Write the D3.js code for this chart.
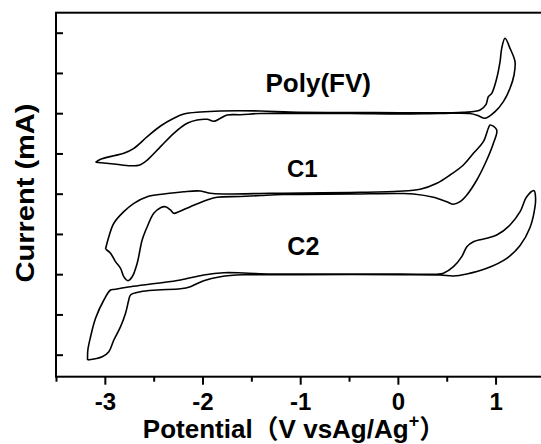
<!DOCTYPE html>
<html>
<head>
<meta charset="utf-8">
<script src="https://cdn.jsdelivr.net/npm/d3@7"></script>
<style>
  body { margin: 0; background: #fff; }
  svg { display: block; }
  text { font-family: "Liberation Sans", Arial, "Noto Sans CJK SC", sans-serif; font-weight: bold; fill: #000; }
</style>
</head>
<body>
<div id="chart"></div>
<script>
// cyclic voltammograms, [potential (V), current (offset, arb.)]
const polyFV = [[-3.095,4.780],[-3.044,4.855],[-2.908,4.944],[-2.806,5.004],[-2.703,5.128],[-2.566,5.416],[-2.430,5.682],[-2.294,5.873],[-2.192,5.980],[-2.021,6.030],[-1.817,6.055],[-1.408,6.055],[-1.101,6.030],[-0.488,6.017],[0.024,6.012],[0.668,6.022],[0.842,6.080],[0.903,6.221],[0.926,6.410],[0.961,6.494],[1.012,6.867],[1.046,7.280],[1.063,7.612],[1.097,7.861],[1.148,7.612],[1.199,7.280],[1.189,6.949],[1.148,6.619],[1.080,6.286],[0.995,6.037],[0.893,5.873],[0.824,5.938],[0.739,5.993],[0.433,5.993],[0.024,5.980],[-0.488,5.993],[-0.999,5.993],[-1.408,5.993],[-1.612,5.963],[-1.748,5.955],[-1.817,5.873],[-1.885,5.799],[-1.953,5.848],[-2.055,5.831],[-2.157,5.749],[-2.294,5.501],[-2.430,5.168],[-2.566,4.837],[-2.652,4.706],[-2.737,4.696],[-2.908,4.738],[-3.095,4.780]];

const c1 = [[-2.993,2.626],[-2.959,2.932],[-2.908,3.265],[-2.806,3.553],[-2.703,3.761],[-2.566,3.925],[-2.397,3.993],[-2.192,4.050],[-2.021,4.067],[-1.919,4.010],[-1.783,3.993],[-1.306,4.010],[-1.173,4.010],[-0.488,4.030],[-0.007,4.060],[0.228,4.109],[0.399,4.258],[0.535,4.465],[0.671,4.713],[0.773,5.004],[0.875,5.292],[0.926,5.625],[0.944,5.707],[1.012,5.583],[0.978,5.252],[0.910,4.837],[0.808,4.340],[0.706,3.968],[0.637,3.801],[0.569,3.737],[0.501,3.801],[0.364,3.911],[0.160,3.993],[0.024,4.005],[-0.488,3.993],[-1.173,3.980],[-1.408,3.955],[-1.612,3.930],[-1.851,3.911],[-1.953,3.843],[-2.124,3.677],[-2.243,3.553],[-2.294,3.513],[-2.328,3.595],[-2.379,3.677],[-2.430,3.652],[-2.499,3.513],[-2.566,3.180],[-2.618,2.850],[-2.669,2.271],[-2.720,1.938],[-2.765,1.839],[-2.806,1.938],[-2.839,2.147],[-2.891,2.311],[-2.942,2.519],[-2.993,2.626]];

const c2 = [[-3.177,-0.132],[-3.174,0.117],[-3.146,0.447],[-3.095,0.904],[-3.010,1.359],[-2.942,1.607],[-2.908,1.620],[-2.737,1.689],[-2.464,1.774],[-2.226,1.856],[-1.988,1.980],[-1.783,2.037],[-1.579,2.030],[-1.306,2.005],[-0.999,2.005],[0.024,2.005],[0.399,2.000],[0.466,2.022],[0.569,2.186],[0.654,2.435],[0.706,2.683],[0.773,2.807],[0.910,2.892],[1.012,2.974],[1.148,3.222],[1.251,3.553],[1.319,3.925],[1.394,4.075],[1.409,3.918],[1.404,3.677],[1.353,3.160],[1.251,2.713],[1.115,2.395],[0.910,2.147],[0.706,2.005],[0.569,1.955],[0.433,1.980],[0.024,1.990],[-0.999,1.990],[-1.306,1.985],[-1.579,1.985],[-1.817,1.938],[-1.988,1.839],[-2.124,1.689],[-2.226,1.637],[-2.464,1.607],[-2.635,1.565],[-2.737,1.483],[-2.755,1.359],[-2.788,1.029],[-2.839,0.696],[-2.908,0.365],[-2.959,0.075],[-3.027,-0.050],[-3.177,-0.132]];

const seriesNames = ["Poly(FV)", "C1", "C2"];
const xMajorTicks = [-3, -2, -1, 0, 1];
const xMinorTicks = [-3.5, -2.5, -1.5, -0.5, 0.5, 1.5];
const yTicks = [0, 1, 2, 3, 4, 5, 6, 7, 8];

const W = 541, H = 444;
const margin = { top: 12.7, left: 56 };
const width = 488.4, height = 364;

const svg = d3.select("#chart").append("svg")
    .attr("width", W)
    .attr("height", H);

const g = svg.append("g")
    .attr("transform", `translate(${margin.left},${margin.top})`);

const x = d3.scaleLinear().domain([-3.5, 1.5]).range([0, width]);
const y = d3.scaleLinear().domain([-0.547, 8.497]).range([height, 0]);

// frame
g.append("rect")
    .attr("width", width).attr("height", height)
    .attr("fill", "none").attr("stroke", "#000").attr("stroke-width", 2);

// left axis, ticks inward, no labels
g.append("g")
    .call(d3.axisLeft(y).tickValues(yTicks).tickSize(-7).tickSizeOuter(0).tickFormat(""))
    .call(a => a.select(".domain").remove())
    .selectAll("line").attr("stroke-width", 2);

// bottom axis: minor + major
g.append("g")
    .attr("transform", `translate(0,${height})`)
    .call(d3.axisBottom(x).tickValues(xMinorTicks).tickSize(5).tickSizeOuter(0).tickFormat(""))
    .call(a => a.select(".domain").remove())
    .selectAll("line").attr("stroke-width", 2);

const xAxis = g.append("g")
    .attr("transform", `translate(0,${height})`)
    .call(d3.axisBottom(x).tickValues(xMajorTicks).tickSize(8).tickSizeOuter(0).tickPadding(8).tickFormat(d => String(d)));
xAxis.select(".domain").remove();
xAxis.selectAll("line").attr("stroke-width", 2);
xAxis.selectAll("text")
    .attr("font-size", 24)
    .attr("font-family", "Liberation Sans, Arial, sans-serif")
    .attr("font-weight", "bold")
    .attr("fill", "#000");

// curves
const line = d3.line()
    .x(d => x(d[0]))
    .y(d => y(d[1]))
    .curve(d3.curveCatmullRom.alpha(0.5));

[polyFV, c1, c2].forEach(s => {
    g.append("path")
        .datum(s)
        .attr("d", line)
        .attr("fill", "none")
        .attr("stroke", "#000")
        .attr("stroke-width", 1.6)
        .attr("stroke-linejoin", "round");
});

// curve labels
const labelPos = [[-0.815, 6.527, 26], [-0.979, 4.407, 24], [-0.968, 2.477, 25]];
seriesNames.forEach((name, i) => {
    g.append("text")
        .attr("x", x(labelPos[i][0]))
        .attr("y", y(labelPos[i][1]))
        .attr("text-anchor", "middle")
        .attr("font-size", labelPos[i][2])
        .text(name);
});

// axis titles
const xt = svg.append("text")
    .attr("x", 294)
    .attr("y", 438)
    .attr("text-anchor", "middle")
    .attr("font-size", 26);
xt.append("tspan").text("Potential（V vsAg/Ag");
xt.append("tspan").attr("font-size", 18).attr("dy", -11).text("+");
xt.append("tspan").attr("dy", 11).text("）");

svg.append("text")
    .attr("transform", "translate(34,193) rotate(-90)")
    .attr("text-anchor", "middle")
    .attr("font-size", 26)
    .attr("textLength", 179)
    .attr("lengthAdjust", "spacingAndGlyphs")
    .text("Current (mA)");
</script>
</body>
</html>
